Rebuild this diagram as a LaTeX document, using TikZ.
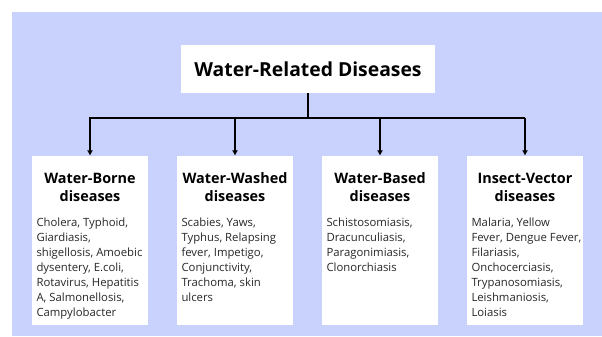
\documentclass[tikz,border=0pt]{standalone}
\usepackage{fontspec}
\setmainfont{Open Sans}
\usetikzlibrary{arrows.meta}

\definecolor{bgblue}{RGB}{200,210,252}
\definecolor{bodygray}{RGB}{40,40,40}

\tikzset{
  whitebox/.style={fill=white, draw=none, inner sep=0pt},
  headtxt/.style={font=\bfseries\fontsize{10.8}{13.5}\selectfont, align=center, inner sep=0pt, anchor=north},
  bodytxt/.style={font=\fontsize{8.5}{11.35}\selectfont, text=bodygray, align=left, inner sep=0pt, anchor=north west},
  link/.style={line width=1.2pt, black}
}

\begin{document}
\begin{tikzpicture}[x=0.75pt, y=-0.75pt]

  % -- Canvas and background --
  \useasboundingbox (0,0) rectangle (602,336);
  \fill[bgblue] (12,12) rectangle (602,336);

  % -- Title --
  \node[whitebox, minimum width=190.5pt, minimum height=36pt,
        font=\bfseries\fontsize{14.5}{17}\selectfont] (title) at (308,69) {Water-Related Diseases};

  % -- Category boxes --
  \node[whitebox, minimum width=87pt, minimum height=126.75pt] (borne) at (90,240.5) {};
  \node[whitebox, minimum width=87pt, minimum height=126.75pt] (washed) at (235,240.5) {};
  \node[whitebox, minimum width=87pt, minimum height=126.75pt] (based) at (380,240.5) {};
  \node[whitebox, minimum width=87pt, minimum height=126.75pt] (insect) at (525,240.5) {};

  % -- Headings --
  \node[headtxt] (borneHead) at ([shift={(0,17)}]borne.north) {Water-Borne\\diseases};
  \node[headtxt] (washedHead) at ([shift={(0,17)}]washed.north) {Water-Washed\\diseases};
  \node[headtxt] (basedHead) at ([shift={(0,17)}]based.north) {Water-Based\\diseases};
  \node[headtxt] (insectHead) at ([shift={(0,17)}]insect.north) {Insect-Vector\\diseases};

  % -- Disease lists --
  \node[bodytxt] (borneList) at ([shift={(4.5,61.5)}]borne.north west)
    {Cholera, Typhoid,\\Giardiasis,\\shigellosis, Amoebic\\dysentery, E.coli,\\Rotavirus, Hepatitis\\A, Salmonellosis,\\Campylobacter};
  \node[bodytxt] (washedList) at ([shift={(4.5,61.5)}]washed.north west)
    {Scabies, Yaws,\\Typhus, Relapsing\\fever, Impetigo,\\Conjunctivity,\\Trachoma, skin\\ulcers};
  \node[bodytxt] (basedList) at ([shift={(4.5,61.5)}]based.north west)
    {Schistosomiasis,\\Dracunculiasis,\\Paragonimiasis,\\Clonorchiasis};
  \node[bodytxt] (insectList) at ([shift={(4.5,61.5)}]insect.north west)
    {Malaria, Yellow\\Fever, Dengue Fever,\\Filariasis,\\Onchocerciasis,\\Trypanosomiasis,\\Leishmaniosis,\\Loiasis};

  % -- Connectors --
  \coordinate (bar) at (0,118);
  \draw[link] (title.south) -- (title |- bar);
  \draw[link, -{Latex[length=4pt, width=4.5pt]}] (insect.north |- bar) -- (borne.north |- bar) -- (borne.north);
  \draw[link, -{Latex[length=4pt, width=4.5pt]}] (insect.north |- bar) -- (insect.north);
  \draw[link, -{Latex[length=4pt, width=4.5pt]}] (washed.north |- bar) -- (washed.north);
  \draw[link, -{Latex[length=4pt, width=4.5pt]}] (based.north |- bar) -- (based.north);

\end{tikzpicture}
\end{document}
